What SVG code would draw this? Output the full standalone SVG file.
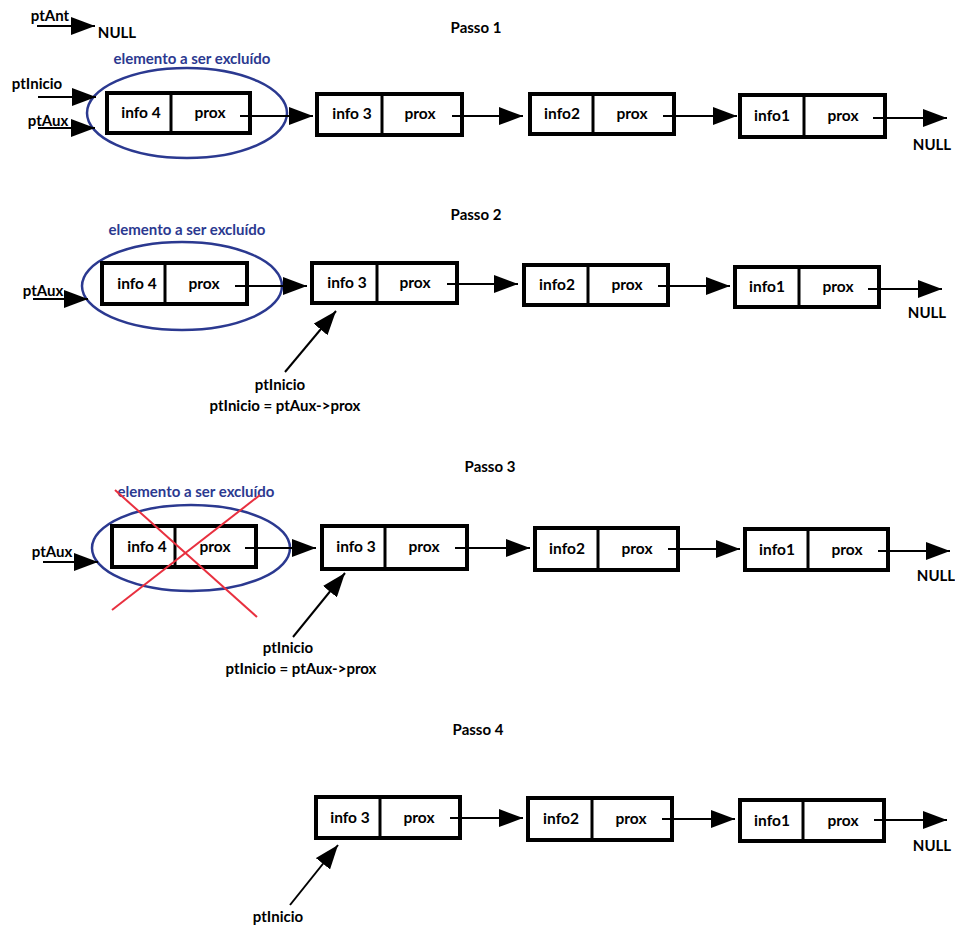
<svg xmlns="http://www.w3.org/2000/svg" width="955" height="928" viewBox="0 0 955 928">
<style>
text{font-family:Lato,"Open Sans","Liberation Sans",sans-serif;font-weight:bold;font-size:15px;fill:#000}
.t{text-anchor:middle}
.n{font-size:15.5px}
.blue{fill:#2b3990;font-size:15px}
.box{fill:#fff;stroke:#000;stroke-width:4}
.div{stroke:#000;stroke-width:3}
.ln{stroke:#000;stroke-width:2;fill:none;marker-end:url(#ah)}
.ell{fill:none;stroke:#2b3990;stroke-width:2.5}
.x{stroke:#e8303f;stroke-width:2}
</style>
<defs>
<marker id="ah" markerUnits="userSpaceOnUse" markerWidth="24" markerHeight="18" viewBox="0 0 24 18" refX="24" refY="9" orient="auto">
<path d="M0,0 L24,9 L0,18 Z" fill="#000"/>
</marker>
</defs>

<!-- Passo 1 -->
<g id="passo1">
<text class="t" x="476" y="33">Passo 1</text>
<text class="t" x="50" y="21">ptAnt</text>
<text class="t" x="117" y="38">NULL</text>
<text class="t" x="37" y="89">ptInicio</text>
<text class="t" x="48" y="126">ptAux</text>
<text class="t blue" x="192" y="64">elemento a ser excluído</text>
</g>
<g id="p1-n4">
<ellipse class="ell" cx="187" cy="113" rx="100" ry="45"/>
<rect class="box" x="107" y="93" width="143" height="40"/>
<line class="div" x1="171" y1="93" x2="171" y2="133"/>
<text class="t n" x="141" y="118">info 4</text>
<text class="t n" x="210" y="118">prox</text>
</g>
<g id="p1-n3">
<rect class="box" x="317" y="94" width="145" height="41"/>
<line class="div" x1="382" y1="94" x2="382" y2="135"/>
<text class="t n" x="352" y="119">info 3</text>
<text class="t n" x="420" y="119">prox</text>
</g>
<g id="p1-n2">
<rect class="box" x="530" y="94" width="144" height="40"/>
<line class="div" x1="593" y1="94" x2="593" y2="134"/>
<text class="t n" x="562" y="119">info2</text>
<text class="t n" x="632" y="119">prox</text>
</g>
<g id="p1-n1">
<rect class="box" x="740" y="95" width="145" height="42"/>
<line class="div" x1="804" y1="95" x2="804" y2="137"/>
<text class="t n" x="772" y="121">info1</text>
<text class="t n" x="843" y="121">prox</text>
<text class="t" x="932" y="150">NULL</text>
</g>

<!-- Passo 2 -->
<g id="passo2">
<text class="t" x="476" y="220">Passo 2</text>
<text class="t blue" x="187" y="235">elemento a ser excluído</text>
<text class="t" x="43" y="296">ptAux</text>
<text class="t" x="280" y="390">ptInicio</text>
<text class="t" x="285" y="411">ptInicio = ptAux-&gt;prox</text>
</g>
<g id="p2-n4">
<ellipse class="ell" cx="182" cy="286" rx="100" ry="44"/>
<rect class="box" x="102" y="263" width="145" height="41"/>
<line class="div" x1="165" y1="263" x2="165" y2="304"/>
<text class="t n" x="137" y="289">info 4</text>
<text class="t n" x="204" y="289">prox</text>
</g>
<g id="p2-n3">
<rect class="box" x="312" y="263" width="145" height="40"/>
<line class="div" x1="377" y1="263" x2="377" y2="303"/>
<text class="t n" x="347" y="288">info 3</text>
<text class="t n" x="415" y="288">prox</text>
</g>
<g id="p2-n2">
<rect class="box" x="524" y="265" width="144" height="40"/>
<line class="div" x1="588" y1="265" x2="588" y2="305"/>
<text class="t n" x="557" y="290">info2</text>
<text class="t n" x="627" y="290">prox</text>
</g>
<g id="p2-n1">
<rect class="box" x="735" y="267" width="144" height="40"/>
<line class="div" x1="799" y1="267" x2="799" y2="307"/>
<text class="t n" x="767" y="292">info1</text>
<text class="t n" x="838" y="292">prox</text>
<text class="t" x="927" y="318">NULL</text>
</g>

<!-- Passo 3 -->
<g id="passo3">
<text class="t" x="490" y="472">Passo 3</text>
<text class="t blue" x="196" y="497">elemento a ser excluído</text>
<text class="t" x="52" y="557">ptAux</text>
<text class="t" x="288" y="653">ptInicio</text>
<text class="t" x="301" y="674">ptInicio = ptAux-&gt;prox</text>
</g>
<g id="p3-n4">
<ellipse class="ell" cx="191" cy="548" rx="99" ry="43"/>
<rect class="box" x="112" y="526" width="144" height="41"/>
<line class="div" x1="175" y1="526" x2="175" y2="567"/>
<text class="t n" x="147" y="552">info 4</text>
<text class="t n" x="215" y="552">prox</text>
<line class="x" x1="115" y1="490" x2="257" y2="617"/>
<line class="x" x1="260" y1="495" x2="112" y2="610"/>
</g>
<g id="p3-n3">
<rect class="box" x="322" y="526" width="145" height="43"/>
<line class="div" x1="385" y1="526" x2="385" y2="569"/>
<text class="t n" x="356" y="552">info 3</text>
<text class="t n" x="424" y="552">prox</text>
</g>
<g id="p3-n2">
<rect class="box" x="535" y="528" width="143" height="42"/>
<line class="div" x1="598" y1="528" x2="598" y2="570"/>
<text class="t n" x="567" y="554">info2</text>
<text class="t n" x="637" y="554">prox</text>
</g>
<g id="p3-n1">
<rect class="box" x="745" y="529" width="143" height="41"/>
<line class="div" x1="808" y1="529" x2="808" y2="570"/>
<text class="t n" x="777" y="555">info1</text>
<text class="t n" x="847" y="555">prox</text>
<text class="t" x="936" y="581">NULL</text>
</g>

<!-- Passo 4 -->
<g id="passo4">
<text class="t" x="478" y="735">Passo 4</text>
<text class="t" x="278" y="922">ptInicio</text>
</g>
<g id="p4-n3">
<rect class="box" x="316" y="797" width="144" height="41"/>
<line class="div" x1="380" y1="797" x2="380" y2="838"/>
<text class="t n" x="350" y="823">info 3</text>
<text class="t n" x="419" y="823">prox</text>
</g>
<g id="p4-n2">
<rect class="box" x="528" y="798" width="144" height="42"/>
<line class="div" x1="592" y1="798" x2="592" y2="840"/>
<text class="t n" x="561" y="824">info2</text>
<text class="t n" x="631" y="824">prox</text>
</g>
<g id="p4-n1">
<rect class="box" x="740" y="800" width="144" height="41"/>
<line class="div" x1="803" y1="800" x2="803" y2="841"/>
<text class="t n" x="772" y="826">info1</text>
<text class="t n" x="843" y="826">prox</text>
<text class="t" x="932" y="851">NULL</text>
</g>

<g id="connectors">
<!-- Passo 1 -->
<line class="ln" x1="37" y1="26" x2="95" y2="26"/>
<line class="ln" x1="38" y1="97" x2="96" y2="97"/>
<line class="ln" x1="38" y1="128" x2="95" y2="128"/>
<line class="ln" x1="240" y1="116" x2="313" y2="116"/>
<line class="ln" x1="452" y1="116" x2="523" y2="116"/>
<line class="ln" x1="663" y1="116" x2="737" y2="116"/>
<line class="ln" x1="873" y1="118" x2="947" y2="118"/>
<!-- Passo 2 -->
<line class="ln" x1="33" y1="299" x2="88" y2="299"/>
<line class="ln" x1="235" y1="286" x2="307" y2="286"/>
<line class="ln" x1="447" y1="284" x2="518" y2="284"/>
<line class="ln" x1="658" y1="286" x2="730" y2="286"/>
<line class="ln" x1="868" y1="289" x2="942" y2="289"/>
<line class="ln" x1="285" y1="372" x2="336" y2="311"/>
<!-- Passo 3 -->
<line class="ln" x1="43" y1="562" x2="98" y2="562"/>
<line class="ln" x1="245" y1="548" x2="316" y2="548"/>
<line class="ln" x1="455" y1="548" x2="530" y2="548"/>
<line class="ln" x1="668" y1="549" x2="740" y2="549"/>
<line class="ln" x1="878" y1="551" x2="950" y2="551"/>
<line class="ln" x1="293" y1="637" x2="345" y2="573"/>
<!-- Passo 4 -->
<line class="ln" x1="450" y1="818" x2="523" y2="818"/>
<line class="ln" x1="662" y1="819" x2="735" y2="819"/>
<line class="ln" x1="874" y1="820" x2="947" y2="820"/>
<line class="ln" x1="290" y1="905" x2="338" y2="845"/>
</g>
</svg>
